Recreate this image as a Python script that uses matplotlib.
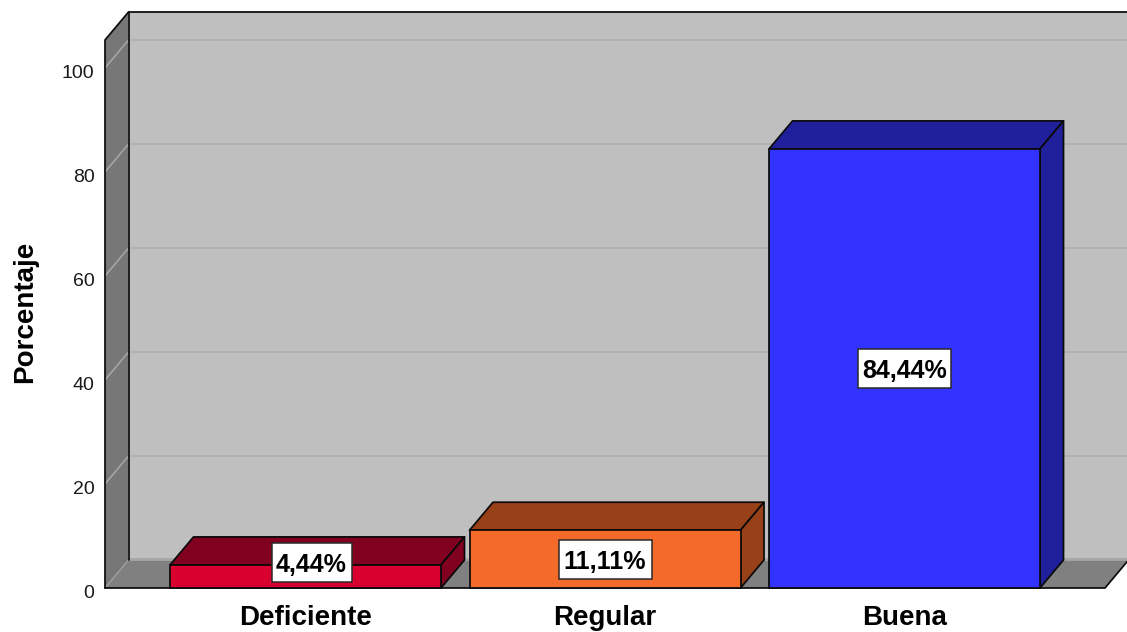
import matplotlib
matplotlib.use("Agg")
import matplotlib.pyplot as plt
from matplotlib.patches import Polygon, Rectangle
from matplotlib.transforms import ScaledTranslation

categories = ["Deficiente", "Regular", "Buena"]
values = [4.44, 11.11, 84.44]
value_labels = ["4,44%", "11,11%", "84,44%"]
y_ticks = [0, 20, 40, 60, 80, 100]

front_colors = ["#D9002F", "#F46A2B", "#3333FF"]
dark_colors = ["#82001F", "#984018", "#201F9C"]

W, H = 1127, 632
plt.rcParams["font.family"] = ["Liberation Sans", "DejaVu Sans"]
fig = plt.figure(figsize=(W / 100, H / 100), dpi=100, facecolor="white")
ax = fig.add_axes([105 / W, 1 - 588 / H, 1000 / W, 548 / H])

step = 299.5
x0, x1 = (105 - 305.5) / step, (1105 - 305.5) / step
ymax = 548 / 5.2
ax.set_xlim(x0, x1)
ax.set_ylim(0, ymax)
ddx, ddy = 23.5 / step, 28 / 5.2
bw = 271 / step
EDGE = "#0A0A0A"
LW = 1.25


def poly(pts, fc, ec="none", lw=0, z=1):
    ax.add_patch(Polygon(pts, closed=True, facecolor=fc, edgecolor=ec,
                         linewidth=lw, zorder=z, clip_on=False, joinstyle="round"))


def line(xs, ys, c=EDGE, lw=LW, z=2):
    ax.plot(xs, ys, color=c, lw=lw, zorder=z, clip_on=False, solid_capstyle="round")


# walls and floor
poly([(x0 + ddx, ddy), (x1 + ddx, ddy), (x1 + ddx, ymax + ddy), (x0 + ddx, ymax + ddy)], "#BFBFBF")
poly([(x0, 0), (x0 + ddx, ddy), (x0 + ddx, ymax + ddy), (x0, ymax)], "#777777")
poly([(x0, 0), (x1, 0), (x1 + ddx, ddy), (x0 + ddx, ddy)], "#808080")
line([x0 + ddx, x1 + ddx], [ddy + 0.1, ddy + 0.1], c="#A6A6A6", lw=2.0)
for t in y_ticks[1:]:
    line([x0 + ddx, x1 + ddx], [t + ddy, t + ddy], c="#B0B0B0", lw=1.2, z=1.5)
    line([x0, x0 + ddx], [t, t + ddy], c="#A8A8A8", lw=1.1, z=1.5)
line([x0, x0 + ddx], [0, ddy], c="#A0A0A0", lw=1.0, z=1.5)
line([x0 + ddx, x0 + ddx], [ddy, ymax + ddy])
line([x0, x0, x0 + ddx, x1 + ddx], [0, ymax, ymax + ddy, ymax + ddy])
line([x0, x1, x1 + ddx], [0, 0, ddy])

# bars
for i, (v, fc, dc) in enumerate(zip(values, front_colors, dark_colors)):
    l, r = i - bw / 2, i + bw / 2
    poly([(l, v), (r, v), (r + ddx, v + ddy), (l + ddx, v + ddy)], dc, EDGE, LW, 3)
    poly([(r, 0), (r + ddx, ddy), (r + ddx, v + ddy), (r, v)], dc, EDGE, LW, 3)
ax.bar(range(3), values, width=bw, color=front_colors, edgecolor=EDGE, linewidth=LW,
       zorder=4, clip_on=False)

# value labels: white boxes sized in inches around the data anchor
box_w = [0.80, 0.93, 0.93]
for i, (v, s) in enumerate(zip(values, value_labels)):
    xa = i + (6 / step if i == 0 else 0)
    ya = max(v / 2, 5.0)
    tr = fig.dpi_scale_trans + ScaledTranslation(xa, ya, ax.transData)
    ax.add_patch(Rectangle((-box_w[i] / 2, -0.195), box_w[i], 0.39, transform=tr, facecolor="white",
                           edgecolor="#2A2A2A", linewidth=1.1, zorder=5, clip_on=False))
    ax.text(xa, ya, s, ha="center", va="center_baseline", fontsize=18, fontweight="bold",
            color="black", zorder=6)

ax.set_xticks(range(3), categories, fontsize=20, fontweight="bold")
ax.set_yticks(y_ticks, [str(t) for t in y_ticks], fontsize=14, color="#1A1A1A")
ax.tick_params(axis="x", length=0, pad=12.5)
ax.tick_params(axis="y", length=0, pad=7.5)
shift = ScaledTranslation(0, -0.03, fig.dpi_scale_trans)
for lab in ax.get_yticklabels():
    lab.set_transform(lab.get_transform() + shift)
for s in ax.spines.values():
    s.set_visible(False)
ax.patch.set_visible(False)
fig.text(25 / W, 1 - 312 / H, "Porcentaje", rotation=90, ha="center", va="center",
         fontsize=20, fontweight="bold")
fig.savefig("out.png", dpi=100, facecolor="white")
